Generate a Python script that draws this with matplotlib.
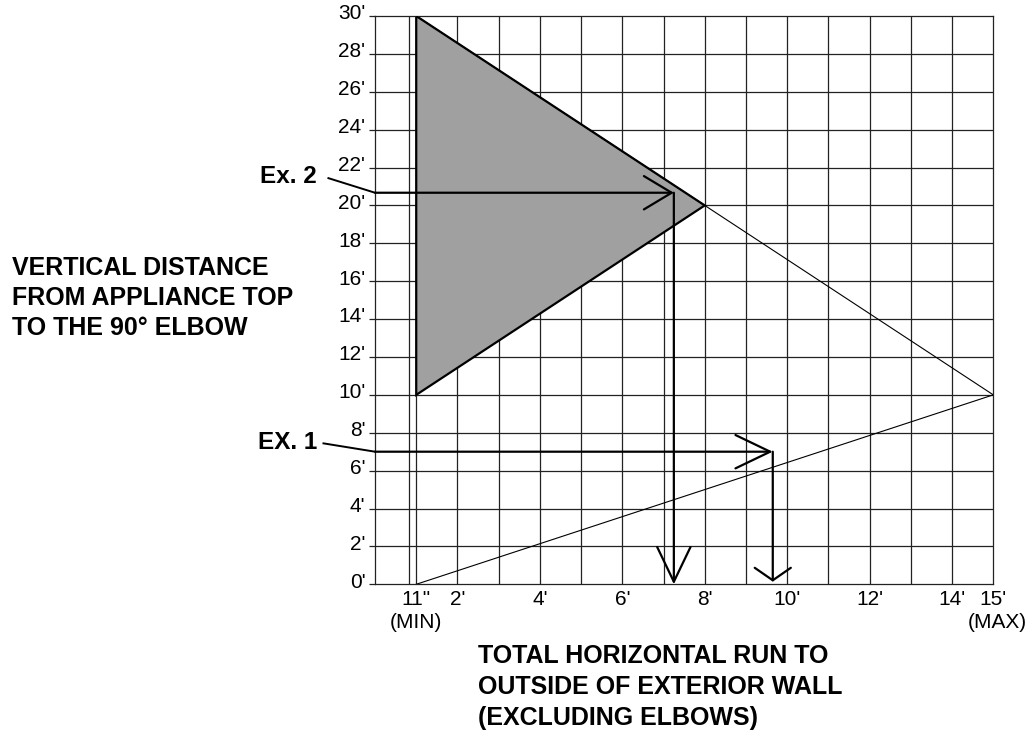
import matplotlib
matplotlib.use("Agg")
import matplotlib.pyplot as plt
from matplotlib.transforms import ScaledTranslation

plt.rcParams["font.family"] = ["Liberation Sans", "DejaVu Sans"]

# chart values (feet)
y_ticks = list(range(0, 31, 2))
y_labels = [f"{v}'" for v in y_ticks]
x_grid = list(range(1, 15))
x_ticks = [1, 2, 4, 6, 8, 10, 12, 14, 15]
x_labels = ['11"', "2'", "4'", "6'", "8'", "10'", "12'", "14'", "15'"]
min_line_x = 0.83

tri_x = [1, 1, 8]
tri_y = [30, 10, 20]
upper_x = [1, 15]
upper_y = [30, 10]
lower_x = [1, 15]
lower_y = [0, 10]

ex2_run, ex2_rise = 7.25, 20.67
ex1_run, ex1_rise = 9.65, 7.0
ex1_stop = 0.14

fig = plt.figure(figsize=(10.32, 7.31), dpi=100)
ax = fig.add_axes([375 / 1032, 1 - 584.3 / 731, 618.3 / 1032, 568.3 / 731])
ax.set_xlim(0, 15)
ax.set_ylim(0, 30)

# grid
for x in x_grid:
    ax.axvline(x, color="#222222", lw=0.9, zorder=1)
ax.axvline(min_line_x, color="#222222", lw=0.9, zorder=1)
for y in y_ticks[1:-1]:
    ax.axhline(y, color="#222222", lw=0.9, zorder=1)
for s in ax.spines.values():
    s.set_color("#222222")
    s.set_linewidth(0.9)

# shaded zone and limit lines
ax.fill(tri_x, tri_y, facecolor="#a0a0a0", edgecolor="black", lw=1.6, zorder=2)
ax.plot(upper_x, upper_y, color="black", lw=0.8, zorder=3)
ax.plot(lower_x, lower_y, color="black", lw=0.8, zorder=3)

# example arrows
def arrow(x0, y0, x1, y1, hl, hw):
    ax.annotate("", xy=(x1, y1), xytext=(x0, y0),
                arrowprops=dict(arrowstyle=f"->,head_length={hl},head_width={hw}",
                                lw=1.6, color="black", shrinkA=0, shrinkB=0,
                                mutation_scale=10),
                annotation_clip=False, zorder=4)

arrow(0, ex2_rise, ex2_run, ex2_rise, 2.0, 1.2)
arrow(ex2_run, ex2_rise, ex2_run, 0, 2.5, 1.2)
arrow(0, ex1_rise, ex1_run, ex1_rise, 2.5, 1.2)
arrow(ex1_run, ex1_rise, ex1_run, ex1_stop, 0.9, 1.3)

# leaders and example labels
ax.plot([-1.13, 0], [21.44, ex2_rise], color="black", lw=1.4, clip_on=False)
ax.plot([-1.25, 0], [7.44, ex1_rise], color="black", lw=1.4, clip_on=False)
ax.text(-2.09, 21.52, "Ex. 2", ha="center", va="center", fontsize=17.5, fontweight="bold")
ax.text(-2.11, 7.5, "EX. 1", ha="center", va="center", fontsize=17.5, fontweight="bold")

# ticks
ax.set_yticks(y_ticks)
ax.set_yticklabels(y_labels, fontsize=15)
ax.tick_params(axis="y", length=4, width=0.9, pad=3, color="#222222")
for lab in ax.get_yticklabels():
    lab.set_transform(lab.get_transform() + ScaledTranslation(0, 3 / 72, fig.dpi_scale_trans))
ax.set_xticks(x_ticks)
ax.set_xticklabels(x_labels, fontsize=15)
ax.tick_params(axis="x", length=0, pad=4)
ax.text(1, -0.068, "(MIN)", transform=ax.get_xaxis_transform(), ha="center", va="center", fontsize=15)
ax.text(15.1, -0.068, "(MAX)", transform=ax.get_xaxis_transform(), ha="center", va="center", fontsize=15)

# axis titles
for i, line in enumerate(["VERTICAL DISTANCE", "FROM APPLIANCE TOP", "TO THE 90° ELBOW"]):
    fig.text(12 / 1032, 1 - (268 + 30 * i) / 731, line, ha="left", va="center",
             fontsize=18, fontweight="bold")
for i, line in enumerate(["TOTAL HORIZONTAL RUN TO", "OUTSIDE OF EXTERIOR WALL", "(EXCLUDING ELBOWS)"]):
    fig.text(478 / 1032, 1 - (656 + 31 * i) / 731, line, ha="left", va="center",
             fontsize=18, fontweight="bold")

fig.savefig("out.png", dpi=100)
